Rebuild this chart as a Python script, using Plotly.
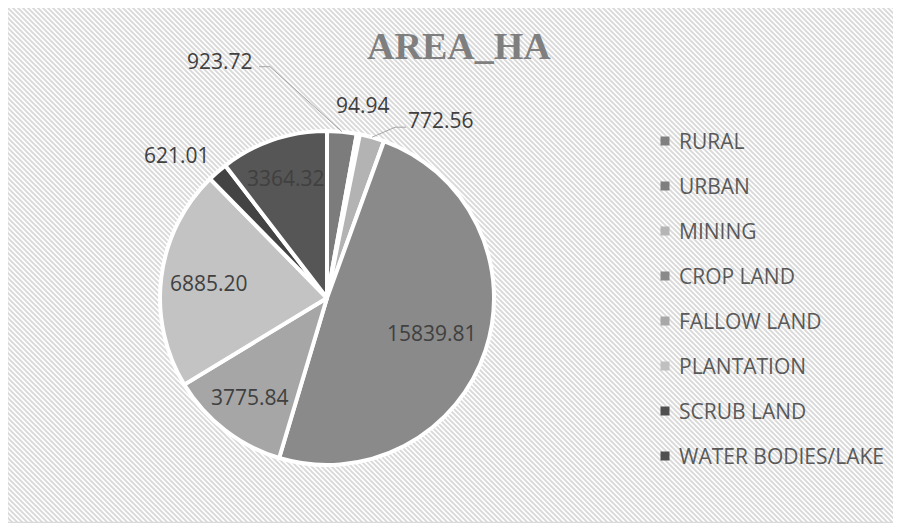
import base64
import math
import plotly.graph_objects as go

# ---------------- data ----------------
categories = ["RURAL", "URBAN", "MINING", "CROP LAND", "FALLOW LAND",
              "PLANTATION", "SCRUB LAND", "WATER BODIES/LAKE"]
area_ha = [923.72, 94.94, 772.56, 15839.81, 3775.84, 6885.20, 621.01, 3364.32]
title_text = "AREA_HA"

# ---------------- style ----------------
# The page body has an 8px margin, so the figure is sized to fit the window and
# all positions below are given in page pixels and shifted by OFF.
OFF = 8
W, H = 893, 515
slice_colors = ["#7c7c7c", "#949494", "#b3b3b3", "#8a8a8a",
                "#a6a6a6", "#c3c3c3", "#434343", "#565656"]
legend_colors = ["#808080", "#7f7f7f", "#b5b5b5", "#8a8a8a",
                 "#a8a8a8", "#c0c0c0", "#505050", "#505050"]
CX, CY, R = 327, 298, 167          # pie centre / radius (page pixels)
label_font = dict(family="Open Sans", size=21, color="#404040")
# label placement style: "in" -> radial fraction, "out" -> pixel offset from rim point
label_style = [("out", (-122, -71)), ("out", (5, -29)), ("out", (69, -17)),
               ("in", 0.66), ("in", 0.75), ("in", 0.71), ("out", (-40, -17)), ("in", 0.76)]
leader_style = {0: [(-72, -65), (-83, -65)], 2: [(23, -10), (34, -10)]}


def px(x):
    return (x - OFF) / W


def py(y):
    return 1 - (y - OFF) / H


fig = go.Figure()

fig.add_trace(go.Pie(
    labels=categories, values=area_ha, sort=False, direction="clockwise",
    rotation=0, textinfo="none", hoverinfo="label+value",
    marker=dict(colors=slice_colors, line=dict(color="white", width=4)),
    domain=dict(x=[px(CX - R), px(CX + R)], y=[py(CY + R), py(CY - R)]),
    showlegend=False,
))

# ---------------- data labels ----------------
total = sum(area_ha)
annotations = []
shapes = []
cum = 0.0
for i, v in enumerate(area_ha):
    mid = (cum + v / 2) / total * 2 * math.pi
    cum += v
    s, c = math.sin(mid), math.cos(mid)
    kind, prm = label_style[i]
    txt = f"{v:.2f}"
    if kind == "in":
        lx, ly = CX + prm * R * s, CY - prm * R * c
    else:
        ax, ay = CX + R * s, CY - R * c
        lx, ly = ax + prm[0], ay + prm[1]
        if i in leader_style:
            pts = [(ax, ay)] + [(ax + dx, ay + dy) for dx, dy in leader_style[i]]
            path = "M " + " L ".join(f"{px(x):.5f},{py(y):.5f}" for x, y in pts)
            shapes.append(dict(type="path", xref="paper", yref="paper", path=path,
                               line=dict(color="#a6a6a6", width=1)))
    annotations.append(dict(x=px(lx), y=py(ly), xref="paper", yref="paper",
                            text=txt, showarrow=False, font=label_font,
                            xanchor="center", yanchor="middle"))

# ---------------- title ----------------
annotations.append(dict(x=px(459), y=py(46), xref="paper", yref="paper",
                        text=f"<b>{title_text}</b>", showarrow=False,
                        font=dict(family="Liberation Serif", size=38, color="#7f7f7f"),
                        xanchor="center", yanchor="middle"))

# ---------------- legend (custom) ----------------
LEG_X, LEG_Y0, LEG_DY, MK = 665, 141, 45, 9
for i, name in enumerate(categories):
    yy = LEG_Y0 + i * LEG_DY
    shapes.append(dict(type="rect", xref="paper", yref="paper",
                       x0=px(LEG_X - MK / 2), x1=px(LEG_X + MK / 2),
                       y0=py(yy + MK / 2), y1=py(yy - MK / 2),
                       fillcolor=legend_colors[i], line=dict(width=0)))
    annotations.append(dict(x=px(LEG_X + 12), y=py(yy), xref="paper", yref="paper",
                            text=name, showarrow=False, xanchor="left", yanchor="middle",
                            font=dict(family="Open Sans", size=21, color="#595959")))

# ---------------- background hatching + frame ----------------
BG_L, BG_R, BG_B = 8, 894, 522
bw, bh = BG_R - BG_L, BG_B - OFF
svg = (f'<svg xmlns="http://www.w3.org/2000/svg" width="{bw}" height="{bh}">'
       '<defs><pattern id="p" width="5" height="5" patternUnits="userSpaceOnUse">'
       '<rect width="5" height="5" fill="#ffffff"/>'
       '<path d="M-1,-1 L6,6 M-1,4 L1,6 M4,-1 L6,1" stroke="#d9d9d9" stroke-width="1.9"/>'
       f'</pattern></defs><rect width="{bw}" height="{bh}" fill="url(#p)"/></svg>')
src = "data:image/svg+xml;base64," + base64.b64encode(svg.encode()).decode()

shapes.append(dict(type="rect", xref="paper", yref="paper",
                   x0=px(7.5), x1=px(894.5), y0=py(BG_B + 0.5), y1=py(-2),
                   line=dict(color="#d9d9d9", width=1.5), fillcolor="rgba(0,0,0,0)",
                   layer="below"))

fig.update_layout(
    width=W, height=H, margin=dict(l=0, r=0, t=0, b=0),
    paper_bgcolor="white", plot_bgcolor="white",
    annotations=annotations, shapes=shapes,
    images=[dict(source=src, xref="paper", yref="paper", x=px(BG_L), y=py(OFF),
                 sizex=bw / W, sizey=bh / H, sizing="stretch",
                 xanchor="left", yanchor="top", layer="below")],
)

fig.write_html("out.html")
